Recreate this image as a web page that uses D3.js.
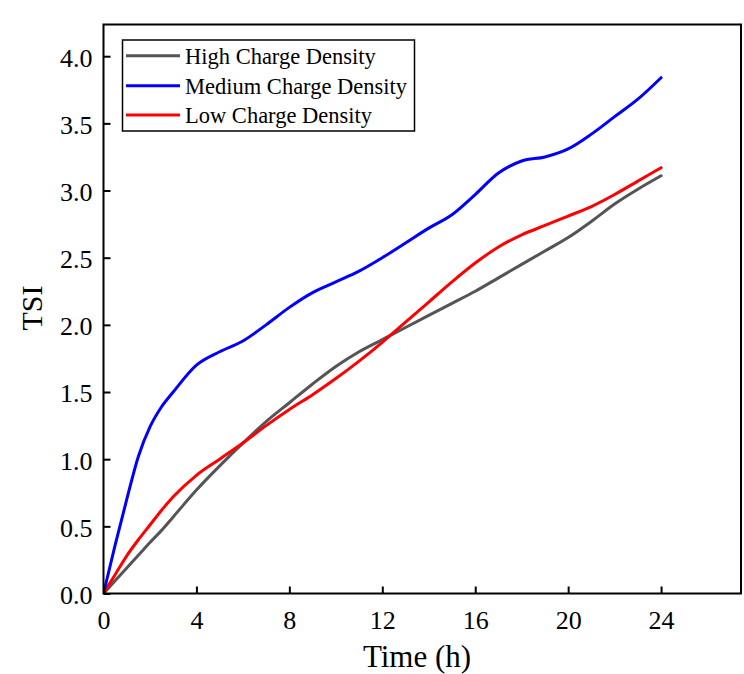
<!DOCTYPE html>
<html>
<head>
<meta charset="utf-8">
<script src="https://cdn.jsdelivr.net/npm/d3@7"></script>
<style>
  html, body { margin: 0; padding: 0; background: #ffffff; }
  svg { display: block; }
  text { font-family: "Liberation Serif", "Times New Roman", serif; fill: #000; }
</style>
</head>
<body>
<script>
// ---- data ----
const times = [0, 0.5, 1, 1.5, 2, 2.5, 3, 4, 5, 6, 7, 8, 9, 10, 11, 12, 13, 14, 15, 16, 17, 18, 19, 20, 21, 22, 23, 24];
const seriesNames = ["High Charge Density", "Medium Charge Density", "Low Charge Density"];
const seriesColors = ["#555555", "#0000ff", "#ff0000"];
const highValues   = [0, 0.095, 0.19, 0.285, 0.38, 0.47, 0.57, 0.77, 0.95, 1.12, 1.28, 1.42, 1.56, 1.69, 1.80, 1.89, 1.98, 2.07, 2.16, 2.25, 2.35, 2.45, 2.55, 2.65, 2.77, 2.90, 3.01, 3.11];
const mediumValues = [0, 0.36, 0.70, 1.02, 1.24, 1.39, 1.50, 1.70, 1.80, 1.88, 2.00, 2.13, 2.24, 2.32, 2.40, 2.50, 2.61, 2.72, 2.82, 2.97, 3.13, 3.22, 3.25, 3.31, 3.42, 3.55, 3.68, 3.84];
const lowValues    = [0, 0.14, 0.28, 0.40, 0.51, 0.62, 0.72, 0.88, 1.00, 1.12, 1.25, 1.37, 1.48, 1.60, 1.73, 1.87, 2.02, 2.17, 2.32, 2.46, 2.58, 2.67, 2.74, 2.81, 2.88, 2.97, 3.07, 3.17];
const xTicks = [0, 4, 8, 12, 16, 20, 24];
const yTicks = [0, 0.5, 1.0, 1.5, 2.0, 2.5, 3.0, 3.5, 4.0];
const xTitle = "Time (h)";
const yTitle = "TSI";

// ---- layout ----
const W = 744, H = 674;
const pL = 103.5, pR = 741, pT = 24.5, pB = 593.5;

const svg = d3.select("body").append("svg").attr("width", W).attr("height", H);
svg.append("rect").attr("width", W).attr("height", H).attr("fill", "#ffffff");

const x = d3.scaleLinear().domain([0, 27.44]).range([pL, pR]);
const y = d3.scaleLinear().domain([0, 4.236]).range([pB, pT]);

// curves
const allSeries = [highValues, mediumValues, lowValues];
const line = d3.line().x(d => x(d[0])).y(d => y(d[1])).curve(d3.curveMonotoneX);
svg.append("clipPath").attr("id", "plotclip").append("rect")
  .attr("x", pL).attr("y", pT).attr("width", pR - pL).attr("height", pB - pT);
const g = svg.append("g").attr("clip-path", "url(#plotclip)");
[0, 2, 1].forEach(i => {
  g.append("path")
    .datum(times.map((t, j) => [t, allSeries[i][j]]))
    .attr("fill", "none")
    .attr("stroke", seriesColors[i])
    .attr("stroke-width", 3)
    .attr("stroke-linejoin", "round")
    .attr("stroke-linecap", "round")
    .attr("d", line);
});

// axes (inward ticks)
const xAxis = d3.axisBottom(x).tickValues(xTicks).tickSize(-7).tickPadding(17).tickFormat(d3.format("d"));
const yAxis = d3.axisLeft(y).tickValues(yTicks).tickSize(-7).tickPadding(11).tickFormat(d3.format(".1f"));

const gx = svg.append("g").attr("transform", `translate(0,${pB})`).call(xAxis);
const gy = svg.append("g").attr("transform", `translate(${pL},0)`).call(yAxis);
[gx, gy].forEach(a => {
  a.select(".domain").remove();
  a.selectAll(".tick line").attr("stroke", "#000").attr("stroke-width", 2);
  a.selectAll(".tick text").attr("font-size", 26).attr("font-family", "Liberation Serif").attr("fill", "#000");
});
gy.selectAll(".tick text").attr("dy", "0.38em");
gx.selectAll(".tick text").attr("dy", "0.72em");

// frame
svg.append("rect")
  .attr("x", pL).attr("y", pT).attr("width", pR - pL).attr("height", pB - pT)
  .attr("fill", "none").attr("stroke", "#000").attr("stroke-width", 2);

// axis titles
svg.append("text").attr("x", 417).attr("y", 667)
  .attr("text-anchor", "middle").attr("font-size", 31).text(xTitle);
svg.append("text").attr("transform", "translate(42,308) rotate(-90)")
  .attr("text-anchor", "middle").attr("font-size", 30).text(yTitle);

// legend
const lg = svg.append("g");
lg.append("rect").attr("x", 122.5).attr("y", 40).attr("width", 292).attr("height", 91)
  .attr("fill", "#ffffff").attr("stroke", "#000").attr("stroke-width", 1.5);
const rowY = [55.7, 85.7, 115];
seriesNames.forEach((name, i) => {
  lg.append("line").attr("x1", 126).attr("x2", 180).attr("y1", rowY[i]).attr("y2", rowY[i])
    .attr("stroke", seriesColors[i]).attr("stroke-width", 3);
  lg.append("text").attr("x", 185).attr("y", rowY[i]).attr("dy", "0.35em")
    .attr("font-size", 22.5).text(name);
});
</script>
</body>
</html>
